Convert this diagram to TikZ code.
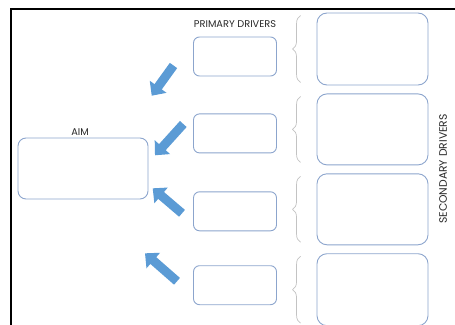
\documentclass[tikz,border=0pt]{standalone}
\usepackage{fontspec}
\setmainfont{Poppins}
\usetikzlibrary{arrows.meta,positioning,decorations.pathreplacing}
\definecolor{boxline}{RGB}{140,165,205}
\definecolor{arrowblue}{RGB}{91,155,213}
\definecolor{bracegray}{RGB}{195,195,195}
\definecolor{labelgray}{RGB}{40,40,40}
\tikzset{
  pbox/.style={draw=boxline,rounded corners=6pt,minimum width=83pt,minimum height=39pt,line width=0.9pt},
  sbox/.style={draw=boxline,rounded corners=10pt,minimum width=111pt,minimum height=71pt,line width=0.9pt},
  aimbox/.style={draw=boxline,rounded corners=8pt,minimum width=130pt,minimum height=61pt,line width=0.9pt},
  label/.style={font=\fontsize{9.8}{10}\selectfont,text=labelgray,inner sep=0pt},
  blockarrow/.style={arrowblue,line width=9pt,-{Triangle[length=11pt,width=20pt]}},
  bracket/.style={bracegray,line width=0.7pt,decorate,decoration={brace,amplitude=8pt}}
}
\begin{document}
\begin{tikzpicture}[x=1pt,y=-1pt]
\useasboundingbox (0,0) rectangle (455,324);
% frame
\draw[line width=1.6pt] (11,330) -- (11,9) -- (460,9);

% aim
\node[aimbox] (aim) at (83,168.5) {};
\node[label] (aimlabel) at (80,132) {AIM};

% primary drivers
\node[pbox] (pd1) at (235,56.5) {};
\node[pbox,below=37pt of pd1] (pd2) {};
\node[pbox,below=38pt of pd2] (pd3) {};
\node[pbox,below=34pt of pd3] (pd4) {};
\node[label] (pdlabel) at (235,24) {PRIMARY DRIVERS};

% secondary drivers
\node[sbox,minimum height=72pt] (sd1) at (372.5,49) {};
\node[sbox,below=8pt of sd1] (sd2) {};
\node[sbox,below=8pt of sd2] (sd3) {};
\node[sbox,below=8pt of sd3,minimum height=72pt] (sd4) {};
\node[label,rotate=90,font=\fontsize{10.8}{11}\selectfont] (sdlabel) at (443,169) {SECONDARY DRIVERS};

% brackets
\foreach \i in {1,...,4}
  \draw[bracket] ([xshift=-16pt,yshift=3pt]sd\i.south west) -- ([xshift=-16pt,yshift=-3pt]sd\i.north west);

% arrows towards the aim
\coordinate (t1) at (173.5,65.5);
\coordinate (h1) at (151.7,95.7);
\coordinate (t2) at (183.3,124);
\coordinate (h2) at (155,155.3);
\coordinate (t3) at (182,213.3);
\coordinate (h3) at (152.7,188.3);
\coordinate (t4) at (177,281.3);
\coordinate (h4) at (145,253.3);
\foreach \i in {1,...,4}
  \draw[blockarrow] (t\i) -- (h\i);
\end{tikzpicture}
\end{document}
